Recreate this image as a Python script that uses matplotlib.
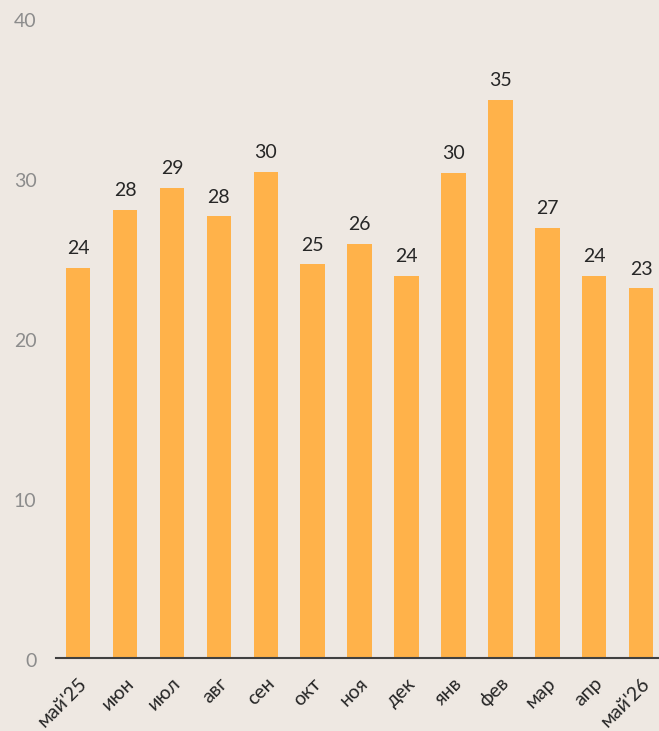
import matplotlib
matplotlib.use('agg')
import matplotlib.pyplot as plt
from matplotlib.transforms import ScaledTranslation

plt.rcParams['font.family'] = ['Lato', 'DejaVu Sans']

# monthly values, May'25 .. May'26
months = ["май'25", 'июн', 'июл', 'авг', 'сен', 'окт', 'ноя',
          'дек', 'янв', 'фев', 'мар', 'апр', "май'26"]
values = [24.4, 28.0, 29.4, 27.6, 30.4, 24.6, 25.9,
          23.9, 30.3, 34.9, 26.9, 23.9, 23.1]
yticks = [0, 10, 20, 30, 40]

bg = '#EEE8E2'
bar_color = '#FFB24A'

fig = plt.figure(figsize=(6.59, 7.31), dpi=100, facecolor=bg)
ax = fig.add_axes([56/659, 73/731, 603/659, 640/731], facecolor=bg)

x = list(range(len(months)))
bars = ax.bar(x, values, width=0.52, color=bar_color, zorder=2)

for xi, v in zip(x, values):
    ax.annotate('{:.0f}'.format(v), (xi, v), xytext=(0, 10), textcoords='offset points',
                ha='center', va='baseline', fontsize=14, color='#262626')

ax.set_xlim(-0.47, 12.38)
ax.set_ylim(0, 40)
ax.set_yticks(yticks)
ax.set_yticklabels([str(t) for t in yticks], fontsize=14, color='#8C8C8C')
ax.tick_params(axis='y', length=0, pad=14)
ax.tick_params(axis='x', length=0, pad=12)
ax.set_xticks(x)
ax.set_xticklabels(months, fontsize=14, color='#262626', rotation=45,
                   ha='right', va='top', rotation_mode='anchor')

# nudge y labels slightly below their gridline value
shift = ScaledTranslation(0, -2/100, fig.dpi_scale_trans)
for lbl in ax.get_yticklabels():
    lbl.set_transform(lbl.get_transform() + shift)

for s in ['top', 'right', 'left']:
    ax.spines[s].set_visible(False)
ax.spines['bottom'].set_color('#404040')
ax.spines['bottom'].set_linewidth(1.5)
ax.spines['bottom'].set_zorder(3)

fig.savefig('out.png', dpi=100, facecolor=bg)
